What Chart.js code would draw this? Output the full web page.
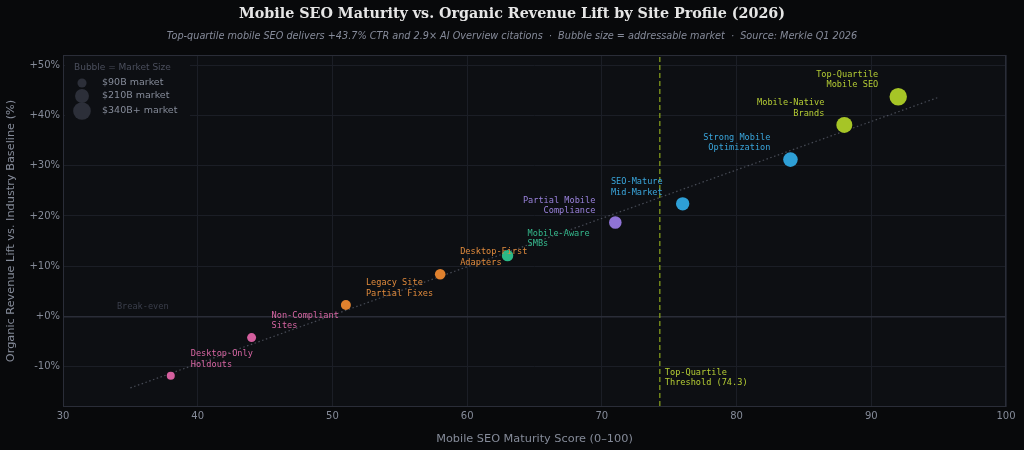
<!DOCTYPE html>
<html>
<head>
<meta charset="utf-8">
<script src="https://cdn.jsdelivr.net/npm/chart.js@4.4.1/dist/chart.umd.min.js"></script>
<style>
  html,body{margin:0;padding:0;background:#08090b;}
  #wrap{width:1024px;height:450px;position:relative;}
</style>
</head>
<body>
<div id="wrap"><canvas id="c" width="1024" height="450"></canvas></div>
<script>
// ---------------- DATA ----------------
const segments = [
  ['Desktop-Only','Holdouts'],
  ['Non-Compliant','Sites'],
  ['Legacy Site','Partial Fixes'],
  ['Desktop-First','Adapters'],
  ['Mobile-Aware','SMBs'],
  ['Partial Mobile','Compliance'],
  ['SEO-Mature','Mid-Market'],
  ['Strong Mobile','Optimization'],
  ['Mobile-Native','Brands'],
  ['Top-Quartile','Mobile SEO']
];
const maturityScore = [38, 44, 51, 58, 63, 71, 76, 84, 88, 92];
const revenueLift   = [-11.8, -4.2, 2.3, 8.4, 12.1, 18.7, 22.4, 31.2, 38.1, 43.7];
const marketSizeB   = [70, 88, 108, 122, 141, 172, 195, 231, 278, 329];
const tier          = ['laggard','laggard','legacy','legacy','aware','partial','strong','strong','leader','leader'];
const trendX = [35, 95];
const trendY = [-14.2, 43.6];
const thresholdScore = 74.3;
const legendSizes = [90, 210, 340];
const legendLabels = ['$90B market', '$210B market', '$340B+ market'];
const xTicks = [30, 40, 50, 60, 70, 80, 90, 100];
const yTicks = [-10, 0, 10, 20, 30, 40, 50];

// ---------------- STYLE ----------------
const tierColor = {
  laggard: '#d45f9e',
  legacy:  '#e0812e',
  aware:   '#2bb887',
  partial: '#8f73d6',
  strong:  '#2e9fd6',
  leader:  '#a6c526'
};
const tierText = {
  laggard: '#d766a3',
  legacy:  '#e08a3c',
  aware:   '#34b88c',
  partial: '#9a82dc',
  strong:  '#3aa6dc',
  leader:  '#b4cc34'
};
const PAGE_BG = '#08090b';
const PLOT_BG = '#0d0f13';
const GRID = '#1b1e26';
const AXIS_TXT = '#858b99';
const MONO = '"DejaVu Sans Mono", monospace';
const SANS = '"DejaVu Sans", sans-serif';
const radiusFor = s => 0.48 * Math.sqrt(s);
const leftSide = i => maturityScore[i] > 65;

const bubbleData = maturityScore.map((x, i) => ({x, y: revenueLift[i], r: radiusFor(marketSizeB[i])}));
const trendData = trendX.map((x, i) => ({x, y: trendY[i]}));

const decor = {
  id: 'decor',
  beforeDraw(chart) {
    const {ctx, chartArea: a} = chart;
    ctx.save();
    ctx.fillStyle = PAGE_BG;
    ctx.fillRect(0, 0, chart.width, chart.height);
    ctx.fillStyle = PLOT_BG;
    ctx.fillRect(a.left, a.top, a.right - a.left, a.bottom - a.top);
    ctx.restore();
  },
  beforeDatasetsDraw(chart) {
    const {ctx, chartArea: a, scales: {x, y}} = chart;
    ctx.save();
    const tx = x.getPixelForValue(thresholdScore);
    ctx.strokeStyle = 'rgba(150,175,30,0.75)';
    ctx.lineWidth = 1.5;
    ctx.setLineDash([5, 3]);
    ctx.beginPath();
    ctx.moveTo(tx, a.top + 2);
    ctx.lineTo(tx, a.bottom);
    ctx.stroke();
    ctx.setLineDash([]);
    ctx.font = '8.6px ' + MONO;
    ctx.fillStyle = '#b4cc34';
    ctx.textAlign = 'left';
    ctx.textBaseline = 'middle';
    ctx.fillText('Top-Quartile', tx + 5, a.bottom - 34);
    ctx.fillText('Threshold (' + thresholdScore + ')', tx + 5, a.bottom - 24);
    const y0 = y.getPixelForValue(0);
    ctx.fillStyle = '#3b3f4c';
    ctx.fillText('Break-even', x.getPixelForValue(34), y0 - 10);
    ctx.fillStyle = PLOT_BG;
    ctx.fillRect(a.left + 2, a.top + 4, 125, 57);
    ctx.font = '9px ' + SANS;
    ctx.fillStyle = '#4b4f5d';
    ctx.fillText('Bubble = Market Size', a.left + 11, a.top + 13);
    const rowsY = [a.top + 28, a.top + 41, a.top + 56];
    legendSizes.forEach((s, i) => {
      ctx.beginPath();
      ctx.arc(a.left + 19, rowsY[i], radiusFor(s), 0, Math.PI * 2);
      ctx.fillStyle = '#2c2f39';
      ctx.fill();
      ctx.font = '9.5px ' + SANS;
      ctx.fillStyle = '#858b99';
      ctx.fillText(legendLabels[i], a.left + 39, rowsY[i]);
    });
    ctx.restore();
  },
  afterDatasetsDraw(chart) {
    const {ctx, chartArea: a, scales: {x, y}} = chart;
    ctx.save();
    ctx.font = '8.6px ' + MONO;
    ctx.textBaseline = 'middle';
    segments.forEach((lines, i) => {
      const px = x.getPixelForValue(maturityScore[i]);
      const py = y.getPixelForValue(revenueLift[i]);
      ctx.fillStyle = tierText[tier[i]];
      ctx.textAlign = leftSide(i) ? 'right' : 'left';
      const lx = leftSide(i) ? px - 20 : px + 20;
      ctx.fillText(lines[0], lx, py - 22);
      ctx.fillText(lines[1], lx, py - 11.5);
    });
    ctx.strokeStyle = '#2a2d38';
    ctx.lineWidth = 1;
    ctx.strokeRect(a.left + 0.5, a.top + 0.5, a.right - a.left - 1, a.bottom - a.top - 1);
    ctx.textAlign = 'center';
    ctx.fillStyle = '#e6e6e6';
    ctx.font = 'bold 14.3px "DejaVu Serif", serif';
    ctx.fillText('Mobile SEO Maturity vs. Organic Revenue Lift by Site Profile (2026)', 512, 14);
    ctx.fillStyle = '#868b9a';
    ctx.font = 'italic 9.7px ' + SANS;
    ctx.fillText('Top-quartile mobile SEO delivers +43.7% CTR and 2.9\u00d7 AI Overview citations  \u00b7  Bubble size = addressable market  \u00b7  Source: Merkle Q1 2026', 512, 36);
    ctx.restore();
  }
};

new Chart(document.getElementById('c'), {
  type: 'bubble',
  data: {
    datasets: [
      {
        type: 'bubble',
        data: bubbleData,
        backgroundColor: tier.map(t => tierColor[t]),
        borderWidth: 0,
        order: 0
      },
      {
        type: 'line',
        data: trendData,
        borderColor: 'rgba(110,115,130,0.6)',
        borderWidth: 1.2,
        borderDash: [1.5, 2.5],
        pointRadius: 0,
        fill: false,
        order: 1
      }
    ]
  },
  options: {
    responsive: false,
    animation: false,
    events: [],
    layout: {padding: {top: 55, right: 18, left: 0, bottom: 0}},
    plugins: {legend: {display: false}, tooltip: {enabled: false}},
    scales: {
      x: {
        type: 'linear', min: 30, max: 100,
        afterBuildTicks: ax => { ax.ticks = xTicks.map(v => ({value: v})); },
        ticks: {color: AXIS_TXT, font: {family: SANS, size: 10}, padding: 3},
        grid: {color: GRID, drawTicks: false, lineWidth: 1},
        border: {display: false},
        title: {display: true, text: 'Mobile SEO Maturity Score (0\u2013100)', color: AXIS_TXT, font: {family: SANS, size: 11.3}, padding: {top: 7}},
        afterFit: ax => { ax.height = 43; }
      },
      y: {
        type: 'linear', min: -18, max: 52,
        afterBuildTicks: ax => { ax.ticks = yTicks.map(v => ({value: v})); },
        ticks: {color: AXIS_TXT, font: {family: SANS, size: 10}, padding: 3,
          callback: v => (v >= 0 ? '+' : '') + v + '%'},
        grid: {color: ctx => ctx.tick && ctx.tick.value === 0 ? '#2a2d38' : GRID,
               lineWidth: ctx => ctx.tick && ctx.tick.value === 0 ? 1.5 : 1, drawTicks: false},
        border: {display: false},
        title: {display: true, text: 'Organic Revenue Lift vs. Industry Baseline (%)', color: AXIS_TXT, font: {family: SANS, size: 11.3}, padding: {bottom: 4}},
        afterFit: ax => { ax.width = 63; }
      }
    }
  },
  plugins: [decor]
});
</script>
</body>
</html>
